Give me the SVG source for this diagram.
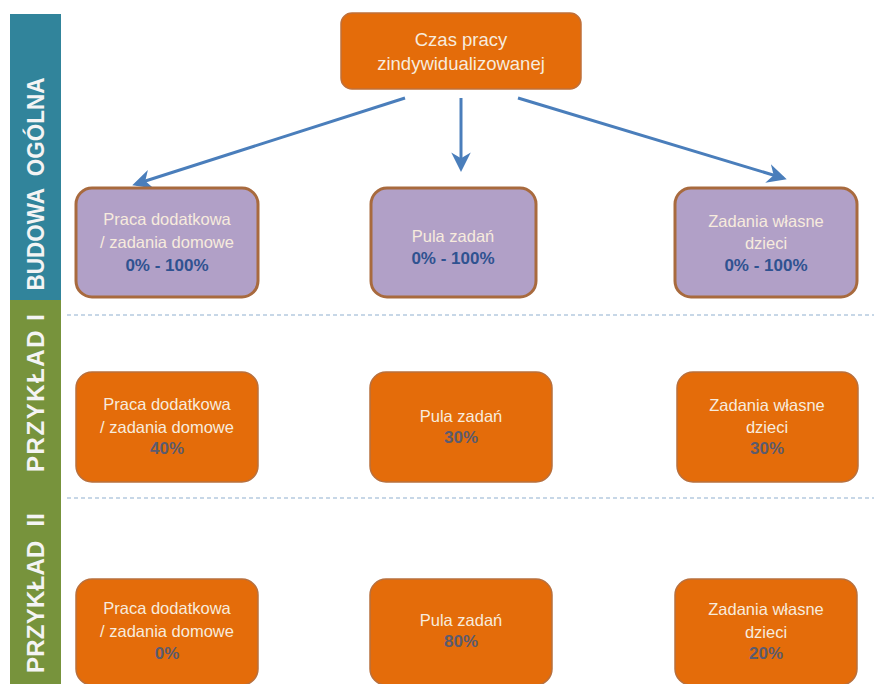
<svg xmlns="http://www.w3.org/2000/svg" width="874" height="684" viewBox="0 0 874 684">
<style>
.t{font-family:"Liberation Sans",Arial,sans-serif;font-size:16.5px;fill:#f7ebdd;text-anchor:middle}
.p{font-family:"Liberation Sans",Arial,sans-serif;font-size:17px;font-weight:bold;text-anchor:middle}
.pp{fill:#2f5290}
.po{fill:#5b5b6e}
.band{font-family:"Liberation Sans",Arial,sans-serif;font-size:24px;font-weight:bold;fill:#f4f4f4;text-anchor:middle}
.purple{fill:#b1a0c7;stroke:#a86a3e;stroke-width:3}
.orange{fill:#e46c0a;stroke:#b8703e;stroke-width:1.5}
.arr{stroke:#4a7ebb;stroke-width:3;fill:none;marker-end:url(#ah)}
.dash{stroke:#8fb0cf;stroke-width:1.2;stroke-dasharray:4 3}
</style>
<defs>
<marker id="ah" viewBox="0 0 10 10" refX="8" refY="5" markerWidth="6.5" markerHeight="6.5" orient="auto" markerUnits="strokeWidth">
<path d="M0,0 L10,5 L0,10 L3,5 Z" fill="#4a7ebb"/>
</marker>
</defs>
<rect width="874" height="684" fill="#ffffff"/>
<g id="bands">
<rect x="10" y="14" width="51" height="286" fill="#31849b"/>
<rect x="10" y="300" width="51" height="384" fill="#77933c"/>
<text class="band" transform="translate(44,184) rotate(-90)" xml:space="preserve" textLength="213" lengthAdjust="spacingAndGlyphs">BUDOWA  OGÓLNA</text>
<text class="band" transform="translate(44,393) rotate(-90)" textLength="158" lengthAdjust="spacing">PRZYKŁAD I</text>
<text class="band" transform="translate(44,593) rotate(-90)" xml:space="preserve" textLength="160" lengthAdjust="spacing">PRZYKŁAD  II</text>
</g>
<g id="separators">
<line class="dash" x1="67" y1="315" x2="874" y2="315"/>
<line class="dash" x1="67" y1="498" x2="874" y2="498"/>
</g>
<g id="connectors">
<line class="arr" x1="405" y1="98" x2="136" y2="184"/>
<line class="arr" x1="461" y1="98" x2="461" y2="168"/>
<line class="arr" x1="518" y1="98" x2="783" y2="178"/>
</g>
<g id="top">
<rect x="341" y="13" width="240" height="76" rx="11" fill="#e46c0a" stroke="#c0703a" stroke-width="1.5"/>
<text class="t" style="font-size:18.5px" x="461" y="46">Czas pracy</text>
<text class="t" style="font-size:18.5px" x="461" y="70">zindywidualizowanej</text>
</g>
<g id="g1a">
<rect class="purple" x="76" y="188" width="182" height="109" rx="16"/>
<text class="t" x="167" y="225">Praca dodatkowa</text>
<text class="t" x="167" y="248">/ zadania domowe</text>
<text class="p pp" x="167" y="271">0% - 100%</text>
</g>
<g id="g1b">
<rect class="purple" x="371" y="188" width="165" height="109" rx="16"/>
<text class="t" x="453" y="242">Pula zadań</text>
<text class="p pp" x="453" y="264">0% - 100%</text>
</g>
<g id="g1c">
<rect class="purple" x="675" y="188" width="182" height="109" rx="16"/>
<text class="t" x="766" y="227">Zadania własne</text>
<text class="t" x="766" y="249">dzieci</text>
<text class="p pp" x="766" y="271">0% - 100%</text>
</g>
<g id="g2a">
<rect class="orange" x="76" y="372" width="182" height="110" rx="16"/>
<text class="t" x="167" y="410">Praca dodatkowa</text>
<text class="t" x="167" y="433">/ zadania domowe</text>
<text class="p po" x="167" y="454">40%</text>
</g>
<g id="g2b">
<rect class="orange" x="370" y="372" width="182" height="110" rx="16"/>
<text class="t" x="461" y="422">Pula zadań</text>
<text class="p po" x="461" y="443">30%</text>
</g>
<g id="g2c">
<rect class="orange" x="677" y="372" width="181" height="110" rx="16"/>
<text class="t" x="767" y="411">Zadania własne</text>
<text class="t" x="767" y="433">dzieci</text>
<text class="p po" x="767" y="454">30%</text>
</g>
<g id="g3a">
<rect class="orange" x="76" y="579" width="182" height="106" rx="16"/>
<text class="t" x="167" y="614">Praca dodatkowa</text>
<text class="t" x="167" y="637">/ zadania domowe</text>
<text class="p po" x="167" y="659">0%</text>
</g>
<g id="g3b">
<rect class="orange" x="370" y="579" width="182" height="106" rx="16"/>
<text class="t" x="461" y="626">Pula zadań</text>
<text class="p po" x="461" y="647">80%</text>
</g>
<g id="g3c">
<rect class="orange" x="675" y="579" width="182" height="106" rx="16"/>
<text class="t" x="766" y="615">Zadania własne</text>
<text class="t" x="766" y="638">dzieci</text>
<text class="p po" x="766" y="659">20%</text>
</g>
</svg>
